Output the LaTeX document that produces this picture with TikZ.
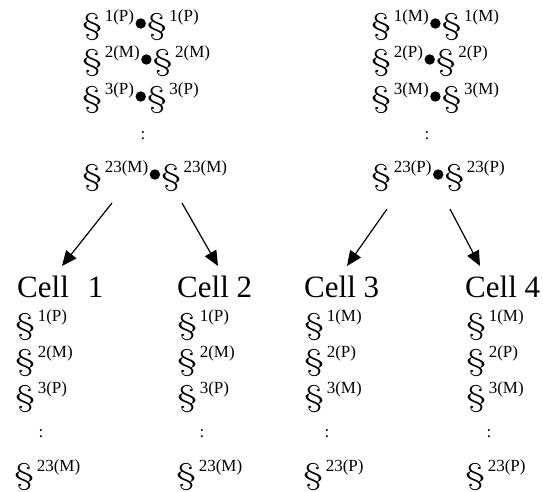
\documentclass[tikz,border=0pt]{standalone}
\usepackage{graphicx}
\usepackage{fontspec}
\setmainfont{Liberation Serif}
\newfontfamily\lmr{Latin Modern Roman}
\usetikzlibrary{arrows.meta}
\newcommand\secsym{\scalebox{1.45}[1]{\lmr\fontsize{30}{30}\selectfont\char"00A7}}
\newcommand\supr[1]{\kern2.5pt\raisebox{12.5pt}{\fontsize{17}{17}\selectfont #1}}
\newcommand\sx[1]{\secsym\supr{#1}}
\newcommand\bul{\kern1.5pt\tikz[baseline=0pt]\fill (0pt,10.5pt) circle (5.2pt);\kern1pt}
\begin{document}
\begin{tikzpicture}[x=1pt,y=-1pt,
  row/.style={anchor=base west, inner sep=0pt},
  vdots/.style={anchor=base, inner sep=0pt, font=\fontsize{17}{17}\selectfont},
  lbl/.style={anchor=base west, inner sep=0pt, font=\fontsize{31}{31}\selectfont},
  arr/.style={-{Triangle[length=15pt,width=13pt]}, line width=1.2pt}]
\useasboundingbox (0,0) rectangle (543,491);
% top left block
\node[row] (l1) at (82,34) {\sx{1(P)}\bul\sx{1(P)}};
\node[row] (l2) at (82,70) {\sx{2(M)}\bul\sx{2(M)}};
\node[row] (l3) at (82,107) {\sx{3(P)}\bul\sx{3(P)}};
\node[vdots] (ld) at (143,139) {:};
\node[row] (l23) at (82,185) {\sx{23(M)}\bul\sx{23(M)}};
% top right block
\node[row] (r1) at (371,34) {\sx{1(M)}\bul\sx{1(M)}};
\node[row] (r2) at (371,70) {\sx{2(P)}\bul\sx{2(P)}};
\node[row] (r3) at (371,107) {\sx{3(M)}\bul\sx{3(M)}};
\node[vdots] (rd) at (427,139) {:};
\node[row] (r23) at (371,185) {\sx{23(P)}\bul\sx{23(P)}};
% cells
\node[lbl] (c1) at (17,297) {Cell\hspace{19pt}1};
\node[lbl] (c2) at (177,297) {Cell 2};
\node[lbl] (c3) at (304,297) {Cell 3};
\node[lbl] (c4) at (465,297) {Cell 4};
\foreach \n/\x/\a/\b/\c/\d/\dx in {1/15/1(P)/2(M)/3(P)/23(M)/41, 2/177/1(P)/2(M)/3(P)/23(M)/202, 3/304/1(M)/2(P)/3(M)/23(P)/327, 4/466/1(M)/2(P)/3(M)/23(P)/489}{
  \node[row] (c\n a) at (\x,334) {\sx{\a}};
  \node[row] (c\n b) at (\x,370) {\sx{\b}};
  \node[row] (c\n c) at (\x,406) {\sx{\c}};
  \node[vdots] (c\n d) at (\dx,437) {:};
  \node[row] (c\n e) at (\x-1,484) {\sx{\d}};
}
% arrows
\coordinate (s1) at (112,203); \coordinate (e1) at (62,266);
\coordinate (s2) at (182,203); \coordinate (e2) at (218,266);
\coordinate (s3) at (387,209); \coordinate (e3) at (347,266);
\coordinate (s4) at (450,209); \coordinate (e4) at (480,266);
\draw[arr] (s1) -- (e1);
\draw[arr] (s2) -- (e2);
\draw[arr] (s3) -- (e3);
\draw[arr] (s4) -- (e4);
\end{tikzpicture}
\end{document}
